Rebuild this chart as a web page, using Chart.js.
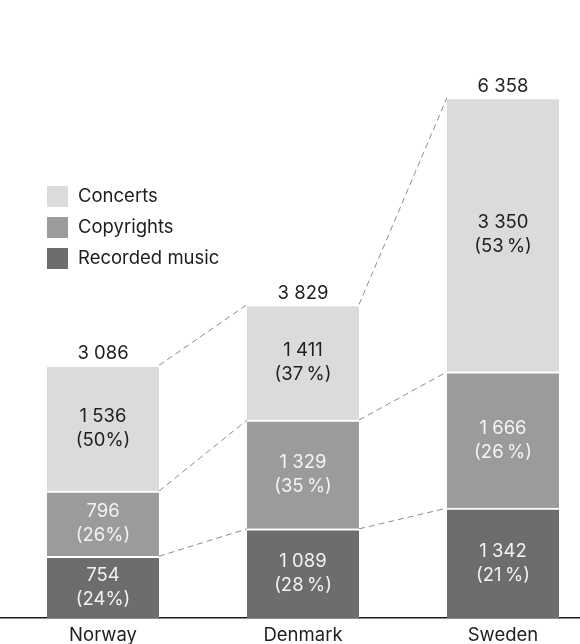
<!DOCTYPE html>
<html>
<head>
<meta charset="utf-8">
<script src="https://cdn.jsdelivr.net/npm/chart.js@4.4.1/dist/chart.umd.min.js"></script>
<style>
  html, body { margin: 0; padding: 0; background: #fff; }
  #wrap { position: relative; width: 580px; height: 644px; }
</style>
</head>
<body>
<div id="wrap"><canvas id="chart"></canvas></div>
<script>
// Music industry revenue by country, split into three sources
const countries = ['Norway', 'Denmark', 'Sweden'];
const recordedMusic = [754, 1089, 1342];
const copyrights = [796, 1329, 1666];
const concerts = [1536, 1411, 3350];
// Norway's source prints percentages without a space before the sign
const percentSeparator = ['', '\u2009', '\u2009'];

const FONT = 'Inter, "Liberation Sans", Arial, sans-serif';
const FONT_SIZE = 18.5;

const totals = countries.map((_, i) => recordedMusic[i] + copyrights[i] + concerts[i]);

function fmt(v) {
  return String(v).replace(/\B(?=(\d{3})+(?!\d))/g, ' ');
}

const series = [
  { label: 'Recorded music', values: recordedMusic, color: '#6d6d6d', text: '#f2f2f2' },
  { label: 'Copyrights', values: copyrights, color: '#9b9b9b', text: '#f4f4f4' },
  { label: 'Concerts', values: concerts, color: '#dbdbdb', text: '#1e1e1e' }
];

// Dashed lines joining matching segment tops of neighbouring bars
const connectors = {
  id: 'connectors',
  beforeDatasetsDraw(chart) {
    const ctx = chart.ctx;
    ctx.save();
    ctx.strokeStyle = '#8c8c8c';
    ctx.lineWidth = 1;
    ctx.setLineDash([6, 4]);
    chart.data.datasets.forEach((ds, d) => {
      const bars = chart.getDatasetMeta(d).data;
      for (let i = 0; i < bars.length - 1; i++) {
        const a = bars[i], b = bars[i + 1];
        ctx.beginPath();
        ctx.moveTo(a.x + a.width / 2, a.y);
        ctx.lineTo(b.x - b.width / 2, b.y);
        ctx.stroke();
      }
    });
    ctx.restore();
  }
};

// Value and share inside each segment, total above each bar
const valueLabels = {
  id: 'valueLabels',
  afterDatasetsDraw(chart) {
    const ctx = chart.ctx;
    ctx.save();
    ctx.font = FONT_SIZE + 'px ' + FONT;
    ctx.textAlign = 'center';
    ctx.textBaseline = 'middle';
    chart.data.datasets.forEach((ds, d) => {
      const s = series[d];
      chart.getDatasetMeta(d).data.forEach((bar, i) => {
        const v = s.values[i];
        const pct = Math.round(v / totals[i] * 100);
        const cy = (bar.y + bar.base) / 2;
        ctx.fillStyle = s.text;
        ctx.fillText(fmt(v), bar.x, cy - 12);
        ctx.fillText('(' + pct + percentSeparator[i] + '%)', bar.x, cy + 12);
      });
    });
    const top = chart.getDatasetMeta(chart.data.datasets.length - 1).data;
    ctx.fillStyle = '#1e1e1e';
    ctx.textBaseline = 'alphabetic';
    top.forEach((bar, i) => {
      ctx.fillText(fmt(totals[i]), bar.x, bar.y - 6);
    });
    ctx.restore();
  }
};

// Legend listing the sources top-down as they are stacked
const sideLegend = {
  id: 'sideLegend',
  afterDraw(chart) {
    const ctx = chart.ctx;
    ctx.save();
    ctx.font = FONT_SIZE + 'px ' + FONT;
    ctx.textBaseline = 'middle';
    ctx.textAlign = 'left';
    const x0 = 47, y0 = 186, step = 31, box = 21;
    series.slice().reverse().forEach((s, k) => {
      const y = y0 + k * step;
      ctx.fillStyle = s.color;
      ctx.fillRect(x0, y, box, box);
      ctx.fillStyle = '#1e1e1e';
      ctx.fillText(s.label, x0 + 31, y + box / 2);
    });
    ctx.restore();
  }
};

new Chart(document.getElementById('chart'), {
  type: 'bar',
  data: {
    datasets: series.map(s => ({
      label: s.label,
      data: s.values.map((v, i) => ({ x: i, y: v })),
      backgroundColor: s.color,
      borderColor: '#ffffff',
      borderWidth: { top: 2, bottom: 0, left: 0, right: 0 },
      borderSkipped: false,
      barThickness: 112
    }))
  },
  options: {
    responsive: true,
    maintainAspectRatio: false,
    animation: false,
    layout: { padding: { top: 45, left: 0, right: 0, bottom: 0 } },
    plugins: { legend: { display: false }, tooltip: { enabled: false } },
    scales: {
      x: {
        type: 'linear',
        stacked: true,
        offset: false,
        min: -0.515,
        max: 2.385,
        grid: { display: false, drawTicks: false },
        border: { display: true, color: '#1e1e1e', width: 1.5 },
        afterBuildTicks(scale) {
          scale.ticks = countries.map((_, i) => ({ value: i }));
        },
        afterFit(scale) { scale.height = 26; },
        ticks: {
          padding: 6,
          autoSkip: false,
          maxRotation: 0,
          color: '#1e1e1e',
          font: { family: FONT, size: FONT_SIZE },
          callback: v => countries[v] ?? ''
        }
      },
      y: {
        stacked: true,
        min: 0,
        max: 7000,
        display: false
      }
    }
  },
  plugins: [connectors, valueLabels, sideLegend]
});
</script>
</body>
</html>
